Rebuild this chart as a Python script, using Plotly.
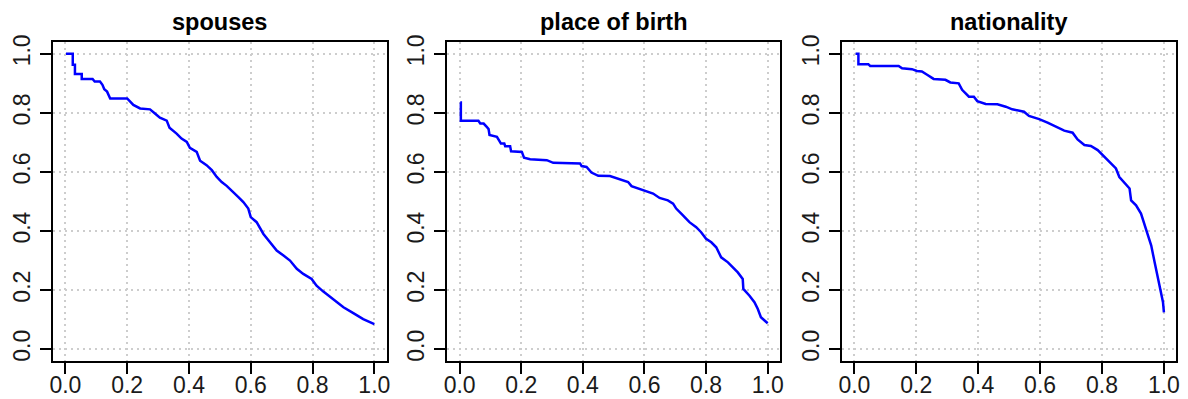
import plotly.graph_objects as go

# Precision (y) against recall (x) for three relation types
titles = ["spouses", "place of birth", "nationality"]

spouses_recall = [0.002, 0.024, 0.024, 0.031, 0.031, 0.053, 0.053, 0.088, 0.095, 0.112,
                  0.120, 0.126, 0.135, 0.145, 0.200, 0.220, 0.242, 0.274, 0.290, 0.306,
                  0.328, 0.337, 0.360, 0.376, 0.393, 0.403, 0.425, 0.436, 0.457, 0.474,
                  0.490, 0.506, 0.522, 0.544, 0.560, 0.576, 0.592, 0.600, 0.619, 0.641,
                  0.662, 0.684, 0.706, 0.727, 0.749, 0.770, 0.797, 0.813, 0.835, 0.867,
                  0.900, 0.932, 0.964, 1.000]
spouses_precision = [1.000, 1.000, 0.963, 0.963, 0.932, 0.932, 0.915, 0.915, 0.906, 0.906,
                     0.895, 0.880, 0.872, 0.849, 0.849, 0.827, 0.815, 0.812, 0.798, 0.784,
                     0.774, 0.750, 0.730, 0.713, 0.702, 0.682, 0.668, 0.638, 0.623, 0.606,
                     0.583, 0.566, 0.553, 0.532, 0.515, 0.498, 0.476, 0.447, 0.430, 0.390,
                     0.362, 0.334, 0.317, 0.300, 0.272, 0.255, 0.238, 0.215, 0.195, 0.170,
                     0.142, 0.122, 0.102, 0.085]

birth_recall = [0.002, 0.004, 0.004, 0.061, 0.067, 0.078, 0.088, 0.094, 0.097, 0.121,
                0.129, 0.134, 0.145, 0.148, 0.164, 0.167, 0.202, 0.209, 0.229, 0.283,
                0.304, 0.391, 0.396, 0.412, 0.428, 0.450, 0.488, 0.520, 0.547, 0.558,
                0.579, 0.606, 0.628, 0.649, 0.676, 0.693, 0.703, 0.725, 0.746, 0.768,
                0.784, 0.800, 0.817, 0.833, 0.849, 0.871, 0.887, 0.903, 0.919, 0.921,
                0.941, 0.957, 0.968, 0.978, 1.000]
birth_precision = [0.835, 0.835, 0.773, 0.773, 0.764, 0.764, 0.753, 0.745, 0.725, 0.719,
                   0.705, 0.696, 0.696, 0.687, 0.687, 0.670, 0.668, 0.648, 0.643, 0.640,
                   0.631, 0.629, 0.620, 0.617, 0.598, 0.587, 0.586, 0.575, 0.566, 0.552,
                   0.544, 0.536, 0.527, 0.512, 0.504, 0.493, 0.476, 0.453, 0.430, 0.413,
                   0.396, 0.374, 0.362, 0.345, 0.311, 0.294, 0.277, 0.260, 0.238, 0.204,
                   0.181, 0.159, 0.136, 0.108, 0.088]

nation_recall = [0.004, 0.013, 0.013, 0.045, 0.051, 0.143, 0.154, 0.186, 0.202, 0.218,
                 0.235, 0.256, 0.294, 0.310, 0.337, 0.348, 0.370, 0.386, 0.397, 0.424,
                 0.462, 0.489, 0.510, 0.548, 0.564, 0.597, 0.624, 0.651, 0.678, 0.705,
                 0.721, 0.743, 0.764, 0.786, 0.802, 0.824, 0.845, 0.856, 0.878, 0.889,
                 0.894, 0.910, 0.926, 0.937, 0.948, 0.959, 0.970, 0.981, 0.991, 0.997,
                 1.000]
nation_precision = [1.000, 1.000, 0.965, 0.965, 0.959, 0.959, 0.951, 0.948, 0.942, 0.940,
                    0.929, 0.915, 0.912, 0.903, 0.900, 0.878, 0.855, 0.855, 0.840, 0.830,
                    0.829, 0.821, 0.812, 0.804, 0.790, 0.779, 0.767, 0.753, 0.740, 0.733,
                    0.710, 0.691, 0.688, 0.674, 0.657, 0.634, 0.612, 0.583, 0.555, 0.544,
                    0.504, 0.487, 0.459, 0.425, 0.391, 0.351, 0.294, 0.238, 0.181, 0.159,
                    0.125]

tick_values = [0.0, 0.2, 0.4, 0.6, 0.8, 1.0]

series = [(spouses_recall, spouses_precision),
          (birth_recall, birth_precision),
          (nation_recall, nation_precision)]

W, H = 1188, 399
# panel boxes in pixels: (left, right), shared top/bottom
boxes_x = [(53, 386.7), (447.3, 780), (842, 1176.3)]
box_top, box_bottom = 42, 361

FONT = "Arial, Liberation Sans, sans-serif"

fig = go.Figure()
layout = dict(
    width=W, height=H, autosize=False,
    margin=dict(l=0, r=0, t=0, b=0, autoexpand=False),
    paper_bgcolor="white", plot_bgcolor="white",
    showlegend=False,
    font=dict(family=FONT, size=23, color="#1a1a1a"),
)

annotations = []
for i, ((xs, ys), title, (bl, br)) in enumerate(zip(series, titles, boxes_x)):
    n = "" if i == 0 else str(i + 1)
    xa, ya = "x" + n, "y" + n
    fig.add_trace(go.Scatter(
        x=xs, y=ys, mode="lines", xaxis=xa, yaxis=ya,
        line=dict(color="#0000FF", width=2.5), hoverinfo="skip",
    ))
    common = dict(
        range=[-0.04, 1.04], tickvals=tick_values, tickformat=".1f",
        showline=True, mirror=True, linecolor="black", linewidth=2,
        ticks="outside", ticklen=11, tickwidth=2, tickcolor="black",
        showgrid=True, gridcolor="#cdcdcd", griddash="2px,4px", gridwidth=2,
        zeroline=False, fixedrange=True, automargin=False,
        tickfont=dict(family=FONT, size=23, color="#1a1a1a"),
    )
    layout["xaxis" + n] = dict(common, domain=[bl / W, br / W], anchor=ya,
                               ticklabelstandoff=-9)
    layout["yaxis" + n] = dict(common, domain=[(H - box_bottom) / H, (H - box_top) / H],
                               anchor=xa, tickangle=-90, ticklabelstandoff=1)
    annotations.append(dict(
        text="<b>" + title + "</b>", xref="paper", yref="paper",
        x=(bl + br) / 2 / W, y=(H - 22) / H, xanchor="center", yanchor="middle",
        showarrow=False, font=dict(family=FONT, size=23.5, color="black"),
    ))

layout["annotations"] = annotations
fig.update_layout(**layout)
fig.write_html("out.html")
